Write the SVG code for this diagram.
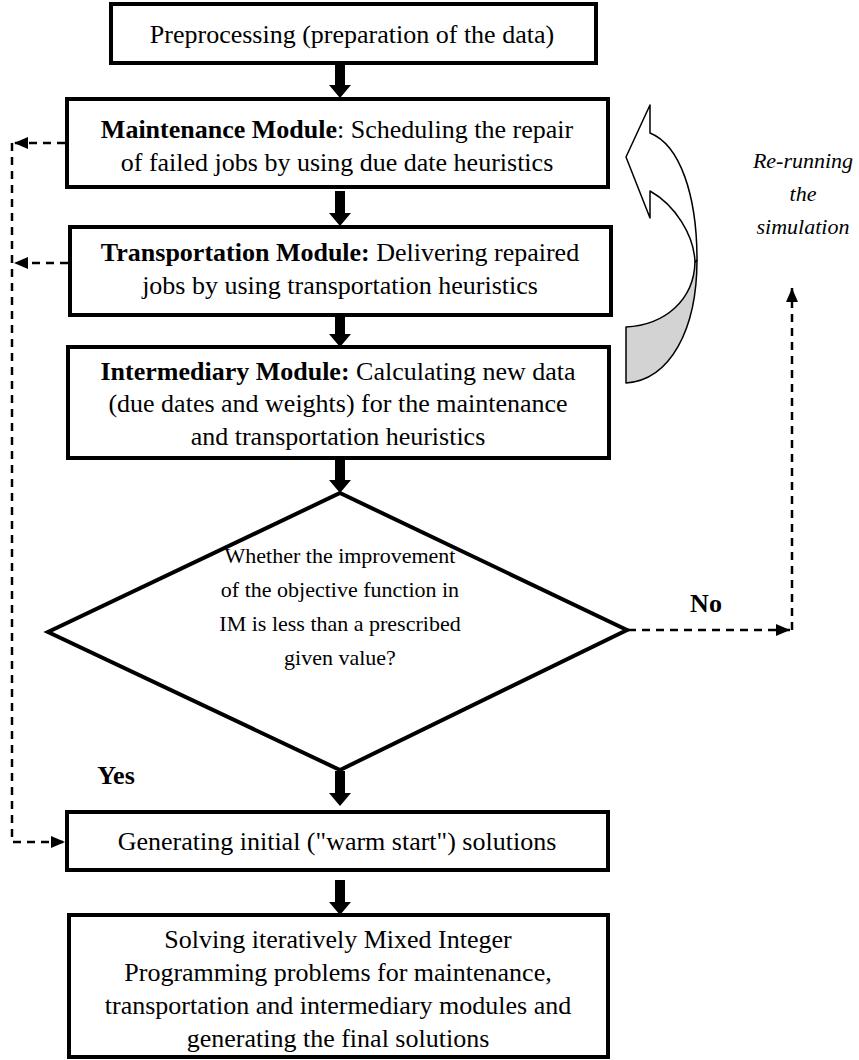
<svg xmlns="http://www.w3.org/2000/svg" width="859" height="1060" viewBox="0 0 859 1060">
  <defs>
    <style>
      .box { fill: #fff; stroke: #000; stroke-width: 4; }
      .t { font-family: "Liberation Serif", "Times New Roman", serif; font-size: 26px; fill: #000; text-anchor: middle; }
      .d { font-family: "Liberation Serif", "Times New Roman", serif; font-size: 22px; fill: #000; text-anchor: middle; }
      .b { font-weight: bold; }
      .i { font-family: "Liberation Serif", "Times New Roman", serif; font-size: 22px; font-style: italic; fill: #000; text-anchor: middle; }
      .dash { fill: none; stroke: #000; stroke-width: 2.5; stroke-dasharray: 8 6; }
      .thick { fill: #000; }
      .curve { stroke: #000; stroke-width: 1.5; stroke-linejoin: round; }
    </style>
    <marker id="dh" viewBox="0 0 14 12" refX="14" refY="6" markerWidth="14" markerHeight="12" markerUnits="userSpaceOnUse" orient="auto">
      <path d="M0,0 L14,6 L0,12 Z" fill="#000"/>
    </marker>
    <!-- solid block arrow pointing down, origin at the tip -->
    <path id="blk" d="M-5,-35 L5,-35 L5,-13 L11,-13 L0,0 L-11,-13 L-5,-13 Z"/>
  </defs>

  <!-- connectors -->
  <g id="connectors">
    <use href="#blk" x="340" y="98" class="thick"/>
    <use href="#blk" x="340" y="226" class="thick"/>
    <use href="#blk" x="340" y="347" class="thick"/>
    <use href="#blk" x="340" y="493" class="thick"/>
    <use href="#blk" x="340" y="806" class="thick"/>
    <use href="#blk" x="340" y="915" class="thick"/>

    <!-- feedback dashed lines on the left -->
    <path class="dash" d="M65,143 L14,143" marker-end="url(#dh)"/>
    <path class="dash" d="M68,263 L14,263" marker-end="url(#dh)"/>
    <path class="dash" d="M12,143 L12,842 L65,842" marker-end="url(#dh)"/>

    <!-- "No" branch on the right -->
    <path class="dash" d="M628,630 L790,630" marker-end="url(#dh)"/>
    <path class="dash" d="M792,630 L792,288" marker-end="url(#dh)"/>

    <!-- curved return arrow -->
    <path class="curve" fill="#d3d3d3" d="M695,262 C694,300 665,325 626,327 L626,383 C670,380 697,330 697,260 Z"/>
    <path class="curve" fill="#fff" d="M626,157 L650,105 L650,133 C680,145 697,195 697,260 L695,262 C694,235 675,205 650,191 L650,218 Z"/>
  </g>

  <g id="preprocessing">
    <rect class="box" x="111" y="4" width="485" height="59"/>
    <text class="t" x="352" y="43">Preprocessing (preparation of the data)</text>
  </g>

  <g id="maintenance">
    <rect class="box" x="67" y="99" width="541" height="88"/>
    <text class="t" x="337" y="138"><tspan class="b">Maintenance Module</tspan>: Scheduling the repair</text>
    <text class="t" x="337" y="171">of failed jobs by using due date heuristics</text>
  </g>

  <g id="transportation">
    <rect class="box" x="70" y="227" width="541" height="88"/>
    <text class="t" x="340" y="261"><tspan class="b">Transportation Module:</tspan> Delivering repaired</text>
    <text class="t" x="340" y="294">jobs by using transportation heuristics</text>
  </g>

  <g id="intermediary">
    <rect class="box" x="68" y="347" width="541" height="111"/>
    <text class="t" x="338" y="380"><tspan class="b">Intermediary Module:</tspan> Calculating new data</text>
    <text class="t" x="338" y="412">(due dates and weights) for the maintenance</text>
    <text class="t" x="338" y="445">and transportation heuristics</text>
  </g>

  <g id="decision">
    <polygon points="340,493 627,630 340,770 48,632" fill="#fff" stroke="#000" stroke-width="4" stroke-linejoin="miter"/>
    <text class="d" x="340" y="563">Whether the improvement</text>
    <text class="d" x="340" y="597">of the objective function in</text>
    <text class="d" x="340" y="631">IM is less than a prescribed</text>
    <text class="d" x="340" y="665">given value?</text>
  </g>

  <g id="labels">
    <text class="t b" x="706" y="612">No</text>
    <text class="t b" x="116" y="784">Yes</text>
    <text class="i" x="803" y="168">Re-running</text>
    <text class="i" x="803" y="201">the</text>
    <text class="i" x="803" y="234">simulation</text>
  </g>

  <g id="warm-start">
    <rect class="box" x="67" y="812" width="541" height="58"/>
    <text class="t" x="337" y="850">Generating initial ("warm start") solutions</text>
  </g>

  <g id="mip">
    <rect class="box" x="69" y="915" width="539" height="142"/>
    <text class="t" x="338" y="948">Solving iteratively Mixed Integer</text>
    <text class="t" x="338" y="981">Programming problems for maintenance,</text>
    <text class="t" x="338" y="1014">transportation and intermediary modules and</text>
    <text class="t" x="338" y="1047">generating the final solutions</text>
  </g>
</svg>
